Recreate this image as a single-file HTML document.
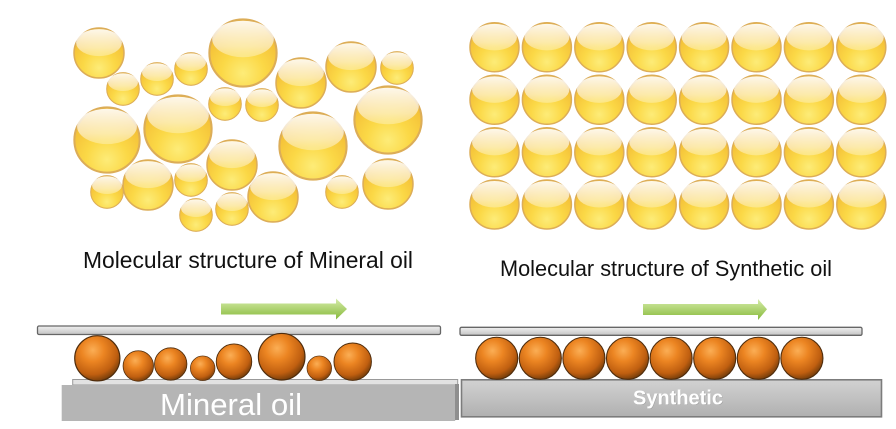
<!DOCTYPE html>
<html><head><meta charset="utf-8"><style>
html,body{margin:0;padding:0;background:#fff;}
svg{display:block;}
</style></head><body>
<svg width="896" height="429" viewBox="0 0 896 429" xmlns="http://www.w3.org/2000/svg">
<defs>
  <radialGradient id="yb" cx="0.5" cy="0.8" r="0.72">
    <stop offset="0" stop-color="#fdec78"/>
    <stop offset="0.45" stop-color="#fbd846"/>
    <stop offset="1" stop-color="#f2ba34"/>
  </radialGradient>
  <linearGradient id="hl" x1="0" y1="0" x2="0" y2="1">
    <stop offset="0" stop-color="#fff" stop-opacity="0.9"/>
    <stop offset="0.7" stop-color="#fff" stop-opacity="0.55"/>
    <stop offset="1" stop-color="#fff" stop-opacity="0.3"/>
  </linearGradient>
  <radialGradient id="ob" cx="0.4" cy="0.32" r="0.72">
    <stop offset="0" stop-color="#fbae55"/>
    <stop offset="0.35" stop-color="#ec8522"/>
    <stop offset="0.75" stop-color="#c05f10"/>
    <stop offset="1" stop-color="#6a380a"/>
  </radialGradient>
  <linearGradient id="gr" x1="0" y1="0" x2="0" y2="1">
    <stop offset="0" stop-color="#d6ecaa"/>
    <stop offset="1" stop-color="#86b93a"/>
  </linearGradient>
  <linearGradient id="pl" x1="0" y1="0" x2="0" y2="1">
    <stop offset="0" stop-color="#f0f0f0"/>
    <stop offset="1" stop-color="#c4c4c4"/>
  </linearGradient>
  <linearGradient id="sb" x1="0" y1="0" x2="0" y2="1">
    <stop offset="0" stop-color="#d2d2d2"/>
    <stop offset="1" stop-color="#b0b0b0"/>
  </linearGradient>
  <symbol id="b" viewBox="-1 -1 2 2" overflow="visible">
    <circle cx="0" cy="0" r="0.96" fill="url(#yb)" stroke="#dcad58" stroke-width="0.06"/>
    <ellipse cx="0" cy="-0.4" rx="0.88" ry="0.52" fill="url(#hl)"/>
  </symbol>
  <symbol id="o" viewBox="-1 -1 2 2" overflow="visible">
    <circle cx="0" cy="0" r="0.97" fill="url(#ob)" stroke="#4e2c0c" stroke-width="0.05"/>
  </symbol>
</defs>

<!-- Mineral oil bubbles -->
<g>
<use href="#b" x="73" y="27" width="52" height="52"/>
<use href="#b" x="106" y="72" width="34" height="34"/>
<use href="#b" x="140" y="62" width="34" height="34"/>
<use href="#b" x="174" y="52" width="34" height="34"/>
<use href="#b" x="208" y="18" width="70" height="70"/>
<use href="#b" x="275" y="57" width="52" height="52"/>
<use href="#b" x="325" y="41" width="52" height="52"/>
<use href="#b" x="380" y="51" width="34" height="34"/>
<use href="#b" x="208" y="87" width="34" height="34"/>
<use href="#b" x="245" y="88" width="34" height="34"/>
<use href="#b" x="73" y="106" width="68" height="68"/>
<use href="#b" x="143" y="94" width="70" height="70"/>
<use href="#b" x="353" y="85" width="70" height="70"/>
<use href="#b" x="278" y="111" width="70" height="70"/>
<use href="#b" x="206" y="139" width="52" height="52"/>
<use href="#b" x="90" y="175" width="34" height="34"/>
<use href="#b" x="122" y="159" width="52" height="52"/>
<use href="#b" x="174" y="163" width="34" height="34"/>
<use href="#b" x="247" y="171" width="52" height="52"/>
<use href="#b" x="362" y="158" width="52" height="52"/>
<use href="#b" x="325" y="175" width="34" height="34"/>
<use href="#b" x="179" y="198" width="34" height="34"/>
<use href="#b" x="215" y="192" width="34" height="34"/>
</g>

<!-- Synthetic oil grid -->
<g>
<use href="#b" x="469" y="21.8" width="51" height="51"/><use href="#b" x="521.4" y="21.8" width="51" height="51"/><use href="#b" x="573.8" y="21.8" width="51" height="51"/><use href="#b" x="626.2" y="21.8" width="51" height="51"/><use href="#b" x="678.6" y="21.8" width="51" height="51"/><use href="#b" x="731" y="21.8" width="51" height="51"/><use href="#b" x="783.4" y="21.8" width="51" height="51"/><use href="#b" x="835.8" y="21.8" width="51" height="51"/>
<use href="#b" x="469" y="74.3" width="51" height="51"/><use href="#b" x="521.4" y="74.3" width="51" height="51"/><use href="#b" x="573.8" y="74.3" width="51" height="51"/><use href="#b" x="626.2" y="74.3" width="51" height="51"/><use href="#b" x="678.6" y="74.3" width="51" height="51"/><use href="#b" x="731" y="74.3" width="51" height="51"/><use href="#b" x="783.4" y="74.3" width="51" height="51"/><use href="#b" x="835.8" y="74.3" width="51" height="51"/>
<use href="#b" x="469" y="126.8" width="51" height="51"/><use href="#b" x="521.4" y="126.8" width="51" height="51"/><use href="#b" x="573.8" y="126.8" width="51" height="51"/><use href="#b" x="626.2" y="126.8" width="51" height="51"/><use href="#b" x="678.6" y="126.8" width="51" height="51"/><use href="#b" x="731" y="126.8" width="51" height="51"/><use href="#b" x="783.4" y="126.8" width="51" height="51"/><use href="#b" x="835.8" y="126.8" width="51" height="51"/>
<use href="#b" x="469" y="179" width="51" height="51"/><use href="#b" x="521.4" y="179" width="51" height="51"/><use href="#b" x="573.8" y="179" width="51" height="51"/><use href="#b" x="626.2" y="179" width="51" height="51"/><use href="#b" x="678.6" y="179" width="51" height="51"/><use href="#b" x="731" y="179" width="51" height="51"/><use href="#b" x="783.4" y="179" width="51" height="51"/><use href="#b" x="835.8" y="179" width="51" height="51"/>
</g>

<!-- Captions -->
<text x="83" y="268" font-family="Liberation Sans, Arial, sans-serif" font-size="23" fill="#111" textLength="330" lengthAdjust="spacingAndGlyphs">Molecular structure of Mineral oil</text>
<text x="500" y="276" font-family="Liberation Sans, Arial, sans-serif" font-size="22" fill="#111" textLength="332" lengthAdjust="spacingAndGlyphs">Molecular structure of Synthetic oil</text>

<!-- Arrows -->
<polygon points="221,303.5 336,303.5 336,298.5 347,309 336,319.5 336,314.5 221,314.5" fill="url(#gr)"/>
<polygon points="643,304 758,304 758,299 767,309.3 758,320 758,315 643,315" fill="url(#gr)"/>

<!-- Top plates -->
<rect x="37.5" y="326" width="403" height="8.5" rx="1.5" fill="url(#pl)" stroke="#666" stroke-width="1.3"/>
<rect x="460" y="327.3" width="402" height="8" rx="1.5" fill="url(#pl)" stroke="#666" stroke-width="1.3"/>

<!-- Left bottom -->
<rect x="72.7" y="379.5" width="385" height="5.5" fill="#e2e2e2" stroke="#999" stroke-width="1"/>
<rect x="61.7" y="385" width="393.5" height="36" fill="#b5b5b5"/>
<rect x="455" y="384" width="4" height="36" fill="#8e8e8e"/>
<text x="160" y="415" font-family="Liberation Sans, Arial, sans-serif" font-size="31" fill="#fff" textLength="142" lengthAdjust="spacingAndGlyphs">Mineral oil</text>

<!-- Right bottom -->
<rect x="461.5" y="379.8" width="420" height="37" fill="url(#sb)" stroke="#7c7c7c" stroke-width="1.6"/>
<text x="678.6" y="405.2" text-anchor="middle" font-family="Liberation Sans, Arial, sans-serif" font-size="20" font-weight="bold" fill="#777" opacity="0.4" textLength="90" lengthAdjust="spacingAndGlyphs">Synthetic</text>
<text x="678" y="404.5" text-anchor="middle" font-family="Liberation Sans, Arial, sans-serif" font-size="20" font-weight="bold" fill="#fff" textLength="90" lengthAdjust="spacingAndGlyphs">Synthetic</text>

<!-- Left orange balls -->
<use href="#o" x="74" y="335" width="46.6" height="46.6"/>
<use href="#o" x="122.6" y="350.3" width="31.4" height="31.4"/>
<use href="#o" x="154" y="347.3" width="33.4" height="33.4"/>
<use href="#o" x="190" y="355.6" width="25.4" height="25.4"/>
<use href="#o" x="215.7" y="343.4" width="36.6" height="36.6"/>
<use href="#o" x="257.7" y="332.7" width="48" height="48"/>
<use href="#o" x="306.6" y="355.6" width="25.4" height="25.4"/>
<use href="#o" x="333.4" y="342.4" width="38.6" height="38.6"/>

<!-- Right orange balls -->
<use href="#o" x="475" y="336.6" width="43.4" height="43.4"/>
<use href="#o" x="518.6" y="336.6" width="43.4" height="43.4"/>
<use href="#o" x="562.2" y="336.6" width="43.4" height="43.4"/>
<use href="#o" x="605.8" y="336.6" width="43.4" height="43.4"/>
<use href="#o" x="649.4" y="336.6" width="43.4" height="43.4"/>
<use href="#o" x="693" y="336.6" width="43.4" height="43.4"/>
<use href="#o" x="736.6" y="336.6" width="43.4" height="43.4"/>
<use href="#o" x="780.2" y="336.6" width="43.4" height="43.4"/>
</svg>
</body></html>
